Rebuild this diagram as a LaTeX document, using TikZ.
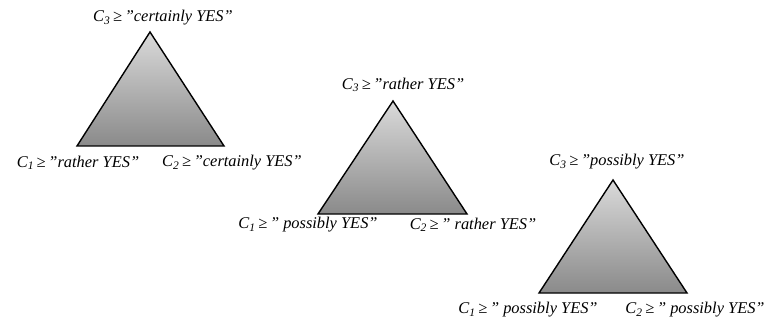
\documentclass[tikz,border=0pt]{standalone}
\usepackage{fontspec}
\setmainfont{Liberation Serif}
\usepackage{xcolor}
\usetikzlibrary{positioning}
\definecolor{TRItop}{HTML}{DADADA}
\definecolor{TRIbot}{HTML}{8A8A8A}

\begin{document}
\begin{tikzpicture}[x=1pt, y=-1pt]

%% ── helpers ───────────────────────────────────────────────
\tikzset{
  tri/.style={draw=black,line width=1.4pt,line join=miter,
              top color=TRItop,bottom color=TRIbot},
  lbl/.style={font=\fontsize{16.4}{18}\selectfont\itshape,inner sep=0pt},
}
\useasboundingbox (0,0) rectangle (767,323);

%% ── TRIANGLE 1 (certainly) ───────────────────────────────
\coordinate (t1a) at (150,32);
\coordinate (t1l) at (77,146);
\coordinate (t1r) at (224,146);
\shade[tri] (t1a) -- (t1l) -- (t1r) -- cycle;
\node[lbl] (t1top) at (163,18)  {C\textsubscript{3}\,≥\,”certainly YES”};
\node[lbl] (t1c1)  at (78,163)  {C\textsubscript{1}\,≥\,”rather YES”};
\node[lbl] (t1c2)  at (232,163) {C\textsubscript{2}\,≥\,”certainly YES”};

%% ── TRIANGLE 2 (rather) ──────────────────────────────────
\coordinate (t2a) at (393,101);
\coordinate (t2l) at (318,214);
\coordinate (t2r) at (467,214);
\shade[tri] (t2a) -- (t2l) -- (t2r) -- cycle;
\node[lbl] (t2top) at (403,85)  {C\textsubscript{3}\,≥\,”rather YES”};
\node[lbl] (t2c1)  at (308,225) {C\textsubscript{1}\,≥\,” possibly YES”};
\node[lbl] (t2c2)  at (473,225) {C\textsubscript{2}\,≥\,” rather YES”};

%% ── TRIANGLE 3 (possibly) ────────────────────────────────
\coordinate (t3a) at (613,180);
\coordinate (t3l) at (539,293);
\coordinate (t3r) at (687,293);
\shade[tri] (t3a) -- (t3l) -- (t3r) -- cycle;
\node[lbl] (t3top) at (617,162) {C\textsubscript{3}\,≥\,”possibly YES”};
\node[lbl] (t3c1)  at (528,310) {C\textsubscript{1}\,≥\,” possibly YES"};
\node[lbl] (t3c2)  at (695,310) {C\textsubscript{2}\,≥\,” possibly YES”};

\end{tikzpicture}
\end{document}
